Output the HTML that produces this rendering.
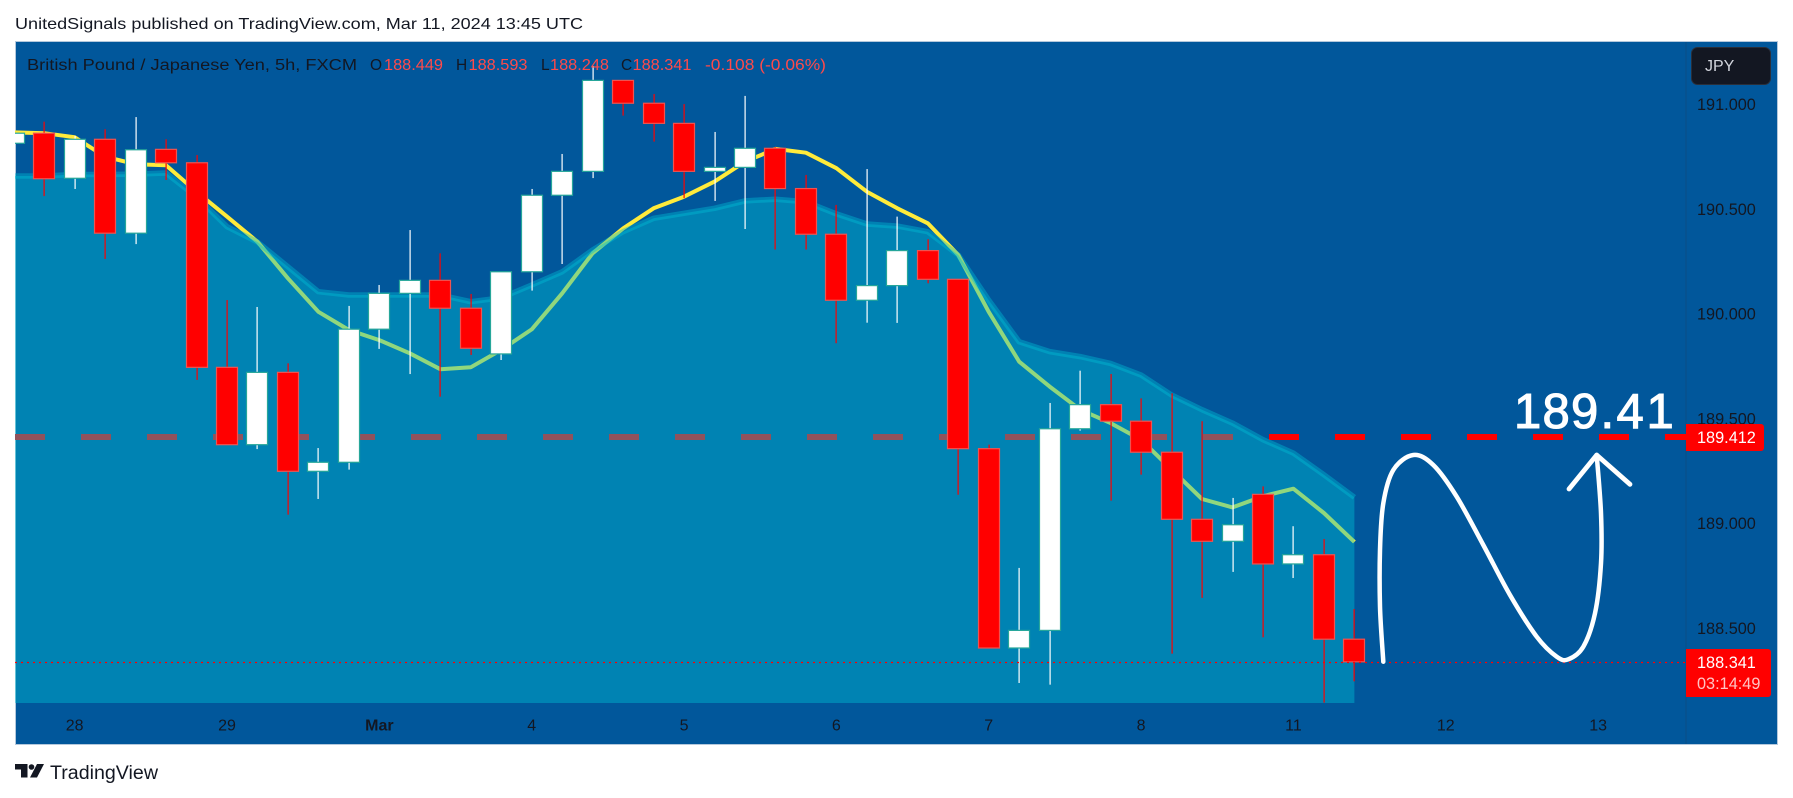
<!DOCTYPE html>
<html lang="en">
<head>
<meta charset="utf-8">
<title>GBP/JPY chart</title>
<style>
html,body{margin:0;padding:0;background:#fff;width:1793px;height:798px;overflow:hidden}
svg{display:block}
text{font-family:"Liberation Sans",sans-serif}
</style>
</head>
<body>
<svg id="chart" xmlns="http://www.w3.org/2000/svg" width="1793" height="798" viewBox="0 0 1793 798">
  <defs>
    <clipPath id="pane-clip"><rect x="15" y="42" width="1671" height="661"/></clipPath>
  </defs>
  <rect x="0" y="0" width="1793" height="798" fill="#ffffff"/>
  <text x="15" y="29" font-size="16" fill="#131722" textLength="568" lengthAdjust="spacingAndGlyphs">UnitedSignals published on TradingView.com, Mar 11, 2024 13:45 UTC</text>
  <rect x="15.5" y="41.5" width="1762" height="703" fill="#01579b" stroke="#b4c8dc" stroke-width="1"/>
  <line x1="1686" y1="42" x2="1686" y2="744" stroke="#0a4c85" stroke-width="1"/>
  <g id="under-layer" clip-path="url(#pane-clip)"></g>
  <g id="area-layer" clip-path="url(#pane-clip)"></g>
  <g id="candle-layer" clip-path="url(#pane-clip)"></g>
  <g id="over-layer" clip-path="url(#pane-clip)"></g>
  <g id="axis-layer"></g>

  <g font-size="15.5">
    <text x="27" y="70" fill="#131722" textLength="330" lengthAdjust="spacingAndGlyphs">British Pound / Japanese Yen, 5h, FXCM</text>
    <text x="370" y="70" fill="#131722">O</text>
    <text x="384" y="70" fill="#ff4a4a" textLength="59" lengthAdjust="spacingAndGlyphs">188.449</text>
    <text x="456" y="70" fill="#131722">H</text>
    <text x="468.500" y="70" fill="#ff4a4a" textLength="59" lengthAdjust="spacingAndGlyphs">188.593</text>
    <text x="541" y="70" fill="#131722">L</text>
    <text x="550" y="70" fill="#ff4a4a" textLength="59" lengthAdjust="spacingAndGlyphs">188.248</text>
    <text x="621" y="70" fill="#131722">C</text>
    <text x="632.500" y="70" fill="#ff4a4a" textLength="59" lengthAdjust="spacingAndGlyphs">188.341</text>
    <text x="705" y="70" fill="#ff4a4a" textLength="121" lengthAdjust="spacingAndGlyphs">-0.108 (-0.06%)</text>
  </g>

  <g>
    <rect x="1691.500" y="47.500" width="79" height="37" rx="6" fill="#131722" stroke="#2a2e39"/>
    <text x="1705" y="71" font-size="16" fill="#d1d4dc">JPY</text>
  </g>

  <g>
    <path d="M1686 424H1761a3 3 0 0 1 3 3V448a3 3 0 0 1 -3 3H1686Z" fill="#ff0000"/>
    <text x="1697" y="443" font-size="16.300" fill="#ffffff">189.412</text>
  </g>
  <g>
    <path d="M1686 649H1768a3 3 0 0 1 3 3V694a3 3 0 0 1 -3 3H1686Z" fill="#ff0000"/>
    <text x="1697" y="668" font-size="16.300" fill="#ffffff">188.341</text>
    <text x="1697" y="689" font-size="16.300" fill="#ffc4c4">03:14:49</text>
  </g>

  <text x="1514 1542.500 1571 1600.500 1616.500 1646.500" y="428" font-size="49" fill="#ffffff" stroke="#ffffff" stroke-width="1.100">189.41</text>
  <path id="zigzag" fill="none" stroke="#ffffff" stroke-width="4.500" stroke-linecap="round" stroke-linejoin="round"/>
  <polyline points="1569,489 1596.700,455 1630,484.300" fill="none" stroke="#ffffff" stroke-width="4.800" stroke-linecap="round" stroke-linejoin="round"/>

  <g>
    <path d="M15 764H27.500V777.500H21V769.500H15Z M37 764H44L37 777.500H30Z" fill="#131722"/>
    <circle cx="31.500" cy="767" r="2.800" fill="#131722"/>
    <text x="50" y="779" font-size="19" fill="#131722" textLength="108" lengthAdjust="spacingAndGlyphs">TradingView</text>
  </g>
</svg>

<script>
// ---- chart data ----
const opens = [190.815,190.863,190.648,190.834,190.386,190.786,190.722,189.746,189.377,189.722,189.250,189.293,189.928,190.099,190.161,190.028,189.810,190.202,190.567,190.681,191.115,191.006,190.910,190.681,190.700,190.791,190.599,190.381,190.066,190.136,190.303,190.166,189.358,188.407,188.491,189.453,189.568,189.489,189.341,189.021,188.916,189.140,188.808,188.852,188.449];
const highs = [190.870,190.918,190.850,190.882,190.940,190.834,190.759,190.067,190.034,189.765,189.361,190.039,190.139,190.401,190.290,190.096,190.202,190.597,190.764,191.184,191.115,191.050,191.002,190.869,191.041,190.797,190.664,190.521,190.692,190.465,190.357,190.166,189.377,188.789,189.576,189.730,189.714,189.598,189.622,189.489,189.123,189.178,188.988,188.927,188.593];
const lows = [190.800,190.563,190.597,190.263,190.334,190.640,189.686,189.377,189.356,189.043,189.118,189.258,189.834,189.714,189.606,189.805,189.781,190.112,190.239,190.649,190.947,190.823,190.553,190.540,190.406,190.308,190.308,189.861,189.959,189.958,190.147,189.138,188.407,188.240,188.232,189.444,189.110,189.234,188.380,188.646,188.770,188.458,188.741,188.146,188.248];
const closes = [190.863,190.646,190.834,190.386,190.784,190.722,189.746,189.377,189.722,189.250,189.293,189.928,190.099,190.161,190.028,189.837,190.202,190.567,190.681,191.115,191.006,190.910,190.681,190.700,190.791,190.599,190.381,190.066,190.136,190.303,190.166,189.358,188.407,188.491,189.453,189.568,189.489,189.341,189.021,188.916,188.995,188.808,188.852,188.449,188.341];
const movingAverage = [190.867,190.863,190.844,190.751,190.715,190.710,190.584,190.465,190.345,190.171,190.011,189.924,189.876,189.813,189.737,189.746,189.829,189.927,190.099,190.290,190.409,190.505,190.560,190.632,190.727,190.788,190.770,190.696,190.584,190.505,190.433,190.282,190.011,189.773,189.654,189.544,189.480,189.401,189.258,189.118,189.078,189.131,189.167,189.051,188.913];
const areaBand = [190.659,190.659,190.666,190.666,190.668,190.673,190.559,190.417,190.344,190.226,190.107,190.091,190.091,190.091,190.091,190.059,190.078,190.139,190.202,190.306,190.393,190.457,190.481,190.505,190.540,190.548,190.536,190.478,190.430,190.420,190.393,190.282,190.067,189.868,189.821,189.797,189.765,189.709,189.614,189.544,189.480,189.401,189.337,189.234,189.126];
const priceTicks = ["191.000","190.500","190.000","189.500","189.000","188.500"];
const timeTickBars = [2,7,12,17,22,27,32,37,42,47,52];
const timeTickLabels = ["28","29","Mar","4","5","6","7","8","11","12","13"];
const targetPrice = 189.412;
const lastPrice = 188.341;

// ---- axis functions ----
const priceTop = 191, priceTopY = 104.5, pxPerUnit = 209.6;
const barZero = 13.7, barStep = 30.47;
function yOf(price){ return priceTopY + (priceTop - price) * pxPerUnit; }
function xOf(bar){ return barZero + bar * barStep; }

const NS = 'http://www.w3.org/2000/svg';
function make(tag, attrs, parent){
  const el = document.createElementNS(NS, tag);
  for (const k in attrs) el.setAttribute(k, attrs[k]);
  parent.appendChild(el);
  return el;
}
const under = document.getElementById('under-layer');
const areaLayer = document.getElementById('area-layer');
const candleLayer = document.getElementById('candle-layer');
const over = document.getElementById('over-layer');
const axisLayer = document.getElementById('axis-layer');

// target dashed line (lies beneath the translucent area)
const targetY = Math.round(yOf(targetPrice));
const targetLine = make('line', {x1:15, y1:targetY, x2:1686, y2:targetY, stroke:'#ff0000', 'stroke-width':6, 'stroke-dasharray':'30 36'}, under);



// moving average
const maPoints = movingAverage.map((v, i) => xOf(i).toFixed(1) + ',' + yOf(v).toFixed(1)).join(' ');
const maLine = make('polyline', {points:maPoints, fill:'none', stroke:'#ffeb3b', 'stroke-width':4, 'stroke-linejoin':'round'}, under);



// area
const bandPts = areaBand.map((v, i) => xOf(i).toFixed(1) + ',' + yOf(v).toFixed(1));
const lastX = xOf(areaBand.length - 1).toFixed(1);
const firstX = xOf(0).toFixed(1);
const areaFill = make('polygon', {points:bandPts.join(' ') + ' ' + lastX + ',703 ' + firstX + ',703', fill:'#00bcd4', 'fill-opacity':0.435}, areaLayer);


const areaLine = make('polyline', {points:bandPts.join(' '), fill:'none', stroke:'#00bcd4', 'stroke-opacity':0.42, 'stroke-width':5.5, 'stroke-linejoin':'round'}, areaLayer);



// candles
opens.forEach((o, i) => {
  const c = closes[i];
  const up = c >= o;
  const cx = Math.round(xOf(i));
  const top = yOf(Math.max(o, c));
  const bottom = yOf(Math.min(o, c));
  const wick = make('rect', {x:cx - 0.5, y:yOf(highs[i]), width:1.2, height:Math.max(1, yOf(lows[i]) - yOf(highs[i])), fill:up ? '#ffffff' : '#ff0000'}, candleLayer);
  
  
  const body = make('rect', {x:cx - 10.5, y:top, width:21, height:Math.max(2, bottom - top), fill:up ? '#ffffff' : '#ff0000', stroke:up ? '#26a69a' : '#ef5350', 'stroke-width':1.2}, candleLayer);
  
  
});

// last price dotted line
const lastY = Math.round(yOf(lastPrice)) + 0.5;
const lastLine = make('line', {x1:15, y1:lastY, x2:1686, y2:lastY, stroke:'#ff0000', 'stroke-width':1.2, 'stroke-dasharray':'2 4'}, over);



// y-axis ticks
priceTicks.forEach(label => {
  const t = make('text', {x:1697, y:yOf(parseFloat(label)) + 5.5, 'font-size':16.3, fill:'#131722'}, axisLayer);
  t.textContent = label;
  
  
});

// x-axis ticks
timeTickLabels.forEach((label, i) => {
  const t = make('text', {x:xOf(timeTickBars[i]), y:730.5, 'font-size':16, fill:'#131722', 'text-anchor':'middle', 'font-weight':label === 'Mar' ? 'bold' : 'normal'}, axisLayer);
  t.textContent = label;
  
  
});

// freehand annotation: smooth curve through hand-drawn anchor points
const sketch = [[1383.3,661.7],[1380,606.7],[1380,550],[1383.3,503.3],[1393.3,470],[1413.3,455],[1433.3,465],[1456.7,496.7],[1483.3,545],[1510,595],[1536.7,636.7],[1556.7,656.7],[1568.3,659.3],[1583.3,646.7],[1595,613.3],[1601,563.3],[1601,513.3],[1596.7,455]];
let d = 'M' + sketch[0].join(' ');
for (let i = 0; i < sketch.length - 1; i++) {
  const p0 = sketch[Math.max(0, i - 1)], p1 = sketch[i], p2 = sketch[i + 1], p3 = sketch[Math.min(sketch.length - 1, i + 2)];
  const c1 = [p1[0] + (p2[0] - p0[0]) / 6, p1[1] + (p2[1] - p0[1]) / 6];
  const c2 = [p2[0] - (p3[0] - p1[0]) / 6, p2[1] - (p3[1] - p1[1]) / 6];
  d += 'C' + c1[0].toFixed(1) + ' ' + c1[1].toFixed(1) + ' ' + c2[0].toFixed(1) + ' ' + c2[1].toFixed(1) + ' ' + p2[0] + ' ' + p2[1];
}
document.getElementById('zigzag').setAttribute('d', d);
</script>
</body>
</html>
